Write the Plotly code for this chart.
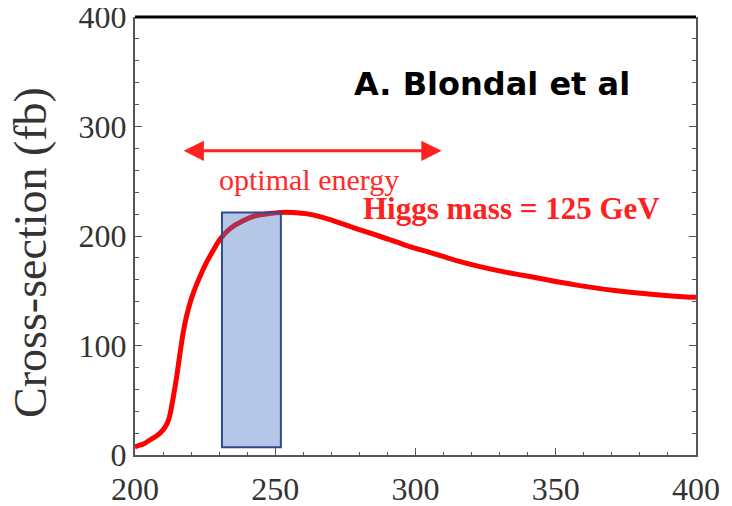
import plotly.graph_objects as go

# Curve data (energy in GeV, cross-section in fb)
energy = [200, 203, 205.3, 208, 210, 211.5, 212.5, 213.6, 214.9, 216, 217.2, 218.4, 220,
          222, 225.5, 230.3, 234, 238.5, 243, 248, 252, 256, 262, 269.5, 278, 287, 296,
          305, 314, 323, 332, 340.8, 350, 358.6, 367, 376.5, 386, 396.7, 400]
xsec = [7.5, 10, 13.7, 18, 23, 29, 37, 52, 72, 92, 112, 127, 142,
        156, 176, 197, 207, 214, 218.5, 220.5, 221.5, 221.5, 220, 215, 207.5, 200, 192,
        185, 178, 172, 167, 163, 158.5, 154.7, 151.5, 148.6, 146.3, 144.3, 144]

# Highlight window
box_x = [231, 252]
box_y = [7, 221.5]

# Arrow for "optimal energy"
arrow_x = [216.8, 309.3]
arrow_y = 277.8

x_ticks = [200, 250, 300, 350, 400]
y_ticks = [0, 100, 200, 300, 400]

serif = "Liberation Serif"

fig = go.Figure()
fig.add_trace(go.Scatter(x=energy, y=xsec, mode="lines",
                         line=dict(color="#ff0000", width=5, shape="spline", smoothing=0.5),
                         hoverinfo="skip", showlegend=False))

fig.add_shape(type="rect", xref="x", yref="y",
              x0=box_x[0], x1=box_x[1], y0=box_y[0], y1=box_y[1],
              fillcolor="rgba(68,114,196,0.40)",
              line=dict(color="#2e4a8a", width=2), layer="above")

# top black border
fig.add_shape(type="line", xref="paper", yref="paper", x0=0, x1=1, y0=1, y1=1,
              line=dict(color="black", width=3), layer="above")

fig.add_annotation(x=arrow_x[1], y=arrow_y, ax=arrow_x[0], ay=arrow_y,
                   xref="x", yref="y", axref="x", ayref="y",
                   text="", showarrow=True, arrowhead=2, startarrowhead=2,
                   arrowside="end+start", arrowsize=1.35, startarrowsize=1.35,
                   arrowwidth=3, arrowcolor="#ff2020")

fig.add_annotation(x=262, y=251.5, xref="x", yref="y", text="optimal energy",
                   showarrow=False, font=dict(family=serif, size=30, color="#ff2a2a"))

fig.add_annotation(x=334.4, y=225, xref="x", yref="y", text="<b>Higgs mass = 125 GeV</b>",
                   showarrow=False, font=dict(family=serif, size=31, color="#ff2020"))

fig.add_annotation(x=327.1, y=338.7, xref="x", yref="y", text="<b>A. Blondal et al</b>",
                   showarrow=False, font=dict(family="DejaVu Sans", size=32, color="black"))

# y-axis title placed as rotated text
fig.add_annotation(x=-0.1854, y=0.4635, xref="paper", yref="paper",
                   text="Cross-section (fb)", textangle=-90, showarrow=False,
                   xanchor="center", yanchor="middle",
                   font=dict(family=serif, size=46, color="#333"))

fig.update_layout(
    width=716, height=498, autosize=False,
    margin=dict(l=127, r=28, t=9, b=51, autoexpand=False),
    paper_bgcolor="white", plot_bgcolor="white",
    xaxis=dict(range=[200, 400], tickvals=x_ticks, ticktext=[str(v) for v in x_ticks],
               showgrid=False, zeroline=False, showline=True, linecolor="#555", linewidth=2,
               ticks="inside", ticklen=7, tickcolor="#555", tickwidth=1, automargin=False,
               minor=dict(dtick=10, ticks="inside", ticklen=3, tickcolor="#555", showgrid=False),
               tickfont=dict(family=serif, size=32, color="#333"), mirror=False,
               ticklabelstandoff=5, ticklabeloverflow="allow"),
    yaxis=dict(range=[0, 400], tickvals=y_ticks, ticktext=[str(v) for v in y_ticks],
               showgrid=False, zeroline=False, showline=True, linecolor="#555", linewidth=2,
               ticks="inside", ticklen=7, tickcolor="#555", tickwidth=1, automargin=False,
               minor=dict(dtick=20, ticks="inside", ticklen=4, tickcolor="#555", showgrid=False),
               tickfont=dict(family=serif, size=32, color="#333"), mirror="ticks",
               ticklabeloverflow="allow"),
)

fig.write_html("out.html")
